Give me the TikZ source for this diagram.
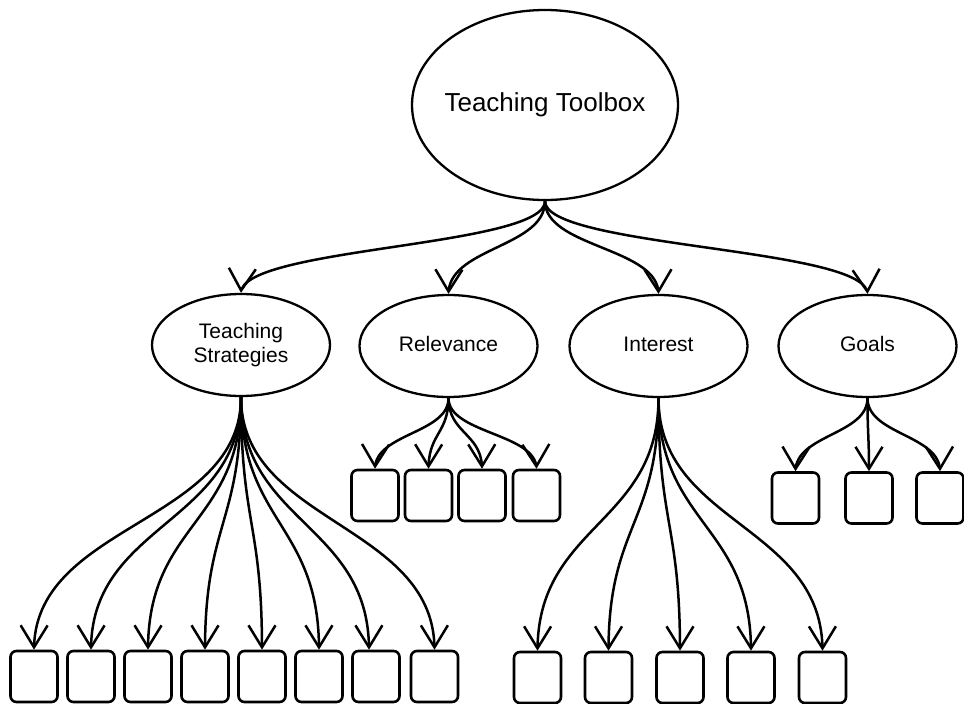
\documentclass[tikz,border=0pt]{standalone}
\usepackage{fontspec}
\setmainfont{Liberation Sans}
\usetikzlibrary{arrows.meta,bending,shapes.geometric,calc}
\begin{document}
\begin{tikzpicture}[x=1pt,y=-1pt,
  rootnode/.style={ellipse,draw,line width=2.3pt,minimum width=266pt,minimum height=190pt,
    inner sep=0pt,font=\fontsize{26}{31}\selectfont},
  topic/.style={ellipse,draw,line width=2.3pt,minimum width=178pt,minimum height=102pt,
    inner sep=0pt,font=\fontsize{21}{24}\selectfont},
  oneline/.style={text height=15pt,text depth=4pt},
  leaf/.style={draw,line width=2.6pt,rounded corners=6pt,minimum width=47pt,
    minimum height=51pt,inner sep=0pt},
  link/.style={line width=2.5pt,
    -{Straight Barb[length=22pt,width=27pt,flex]},
    to path={let \p1=(\tikztostart), \p2=(\tikztotarget) in
      .. controls (\x1,{0.5*(\y1+\y2)}) and (\x2,{0.5*(\y1+\y2)}) .. (\tikztotarget)}}
]
\useasboundingbox (0,0) rectangle (964,704);

% main topic and the four branches
\node[rootnode] (root) at (545,105) {\makebox[0pt]{Teaching Toolbox}};
\node[topic,align=center] (ts) at (241,345) {Teaching\\Strategies};
\node[topic,oneline] (rel) at (448.5,346) {Relevance};
\node[topic,oneline] (int) at (658.5,346) {Interest};
\node[topic,oneline] (goals) at (867.5,346) {Goals};

\foreach \b in {ts,rel,int,goals}
  \draw[link] (root.south) to (\b.north);

% Teaching Strategies items
\foreach \i/\x in {1/34,2/91,3/148,4/205,5/262,6/319,7/376,8/434.5}
  \node[leaf] (t\i) at (\x,676.5) {};
\foreach \i in {1,2,3,4,5,6,8}
  \draw[link] (ts.south) to (t\i.north);
\draw[link] (ts.south) to ([xshift=-7pt]t7.north);

% Relevance items
\foreach \i/\x in {1/375,2/428.5,3/482,4/536.5}
  \node[leaf] (r\i) at (\x,495.5) {};
\foreach \i in {1,...,4}
  \draw[link] (rel.south) to (r\i.north);

% Interest items
\foreach \i/\x in {1/537.5,2/608.5,3/680,4/751,5/822.5}
  \node[leaf] (n\i) at (\x,677.5) {};
\foreach \i in {1,...,5}
  \draw[link] (int.south) to (n\i.north);

% Goals items
\foreach \i/\x in {1/795.5,2/869,3/940}
  \node[leaf] (g\i) at (\x,498) {};
\foreach \i in {1,2,3}
  \draw[link] (goals.south) to (g\i.north);
\end{tikzpicture}
\end{document}
